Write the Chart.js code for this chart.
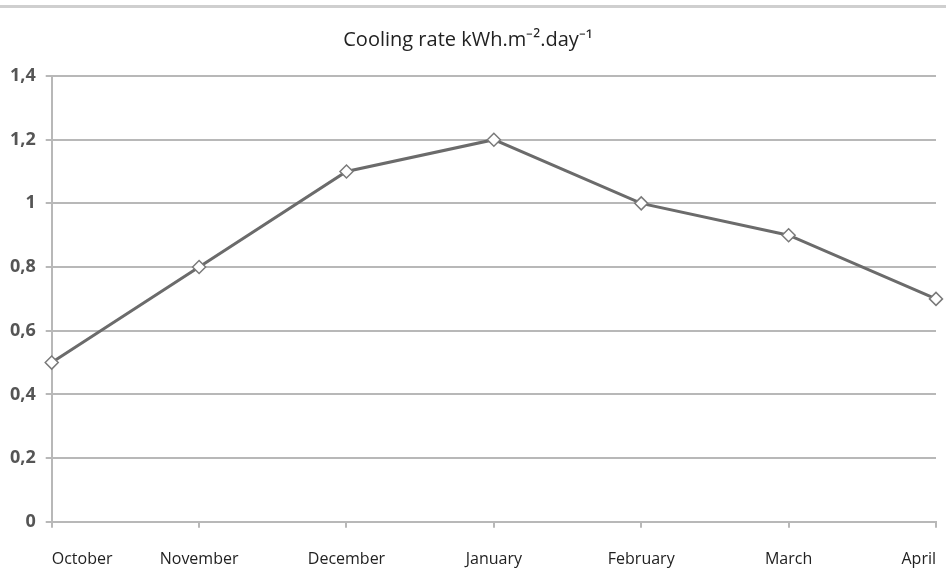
<!DOCTYPE html>
<html>
<head>
<meta charset="utf-8">
<script src="https://cdn.jsdelivr.net/npm/chart.js@4"></script>
<style>
html,body{margin:0;padding:0;background:#fff;}
#topline{position:absolute;left:0;top:5px;width:946px;height:3px;background:#cfcfcf;}
#wrap{position:absolute;left:0;top:0;width:946px;height:569px;}
</style>
</head>
<body>
<div id="topline"></div>
<div id="wrap"><canvas id="c"></canvas></div>
<script>
const categories = ["October","November","December","January","February","March","April"];
const coolingRate = [0.5, 0.8, 1.1, 1.2, 1.0, 0.9, 0.7];
const yTicks = [0, 0.2, 0.4, 0.6, 0.8, 1, 1.2, 1.4];
const titleText = "Cooling rate kWh.m\u207B\u00B2.day\u207B\u00B9";

new Chart(document.getElementById('c'), {
  type: 'line',
  data: {
    labels: categories,
    datasets: [{
      data: coolingRate,
      borderColor: '#6b6b6b',
      borderWidth: 3,
      pointStyle: 'rectRot',
      pointRadius: 6.5,
      pointBorderWidth: 1.5,
      pointBorderColor: '#7a7a7a',
      pointBackgroundColor: '#ffffff',
      tension: 0,
      clip: false
    }]
  },
  options: {
    responsive: true,
    maintainAspectRatio: false,
    animation: false,
    layout: { padding: { left: 0, right: 10, top: 28, bottom: -22 } },
    plugins: {
      legend: { display: false },
      tooltip: { enabled: false },
      title: {
        display: true,
        text: titleText,
        color: '#222222',
        font: { family: 'Open Sans', size: 20, weight: 'normal' },
        padding: { top: 0, bottom: 24 }
      }
    },
    scales: {
      x: {
        offset: false,
        afterFit: (s) => { s.paddingRight = 0; },
        grid: { drawOnChartArea: false, drawTicks: true, tickLength: 6, color: '#b8b8b8', lineWidth: 2 },
        border: { display: true, color: '#b8b8b8', width: 2 },
        ticks: {
          color: '#222222',
          font: { family: 'Open Sans', size: 16 },
          align: 'inner',
          padding: 22,
          maxRotation: 0,
          autoSkip: false
        }
      },
      y: {
        min: 0,
        max: 1.4,
        afterBuildTicks: (axis) => { axis.ticks = yTicks.map(v => ({ value: v })); },
        grid: { color: '#b8b8b8', lineWidth: 2, tickLength: 6, drawTicks: true },
        border: { display: true, color: '#b8b8b8', width: 2 },
        ticks: {
          color: '#555555',
          font: { family: 'Open Sans', size: 18, weight: 'bold' },
          padding: 10,
          callback: (v) => String(Math.round(v * 10) / 10).replace('.', ',')
        }
      }
    }
  }
});
</script>
</body>
</html>
